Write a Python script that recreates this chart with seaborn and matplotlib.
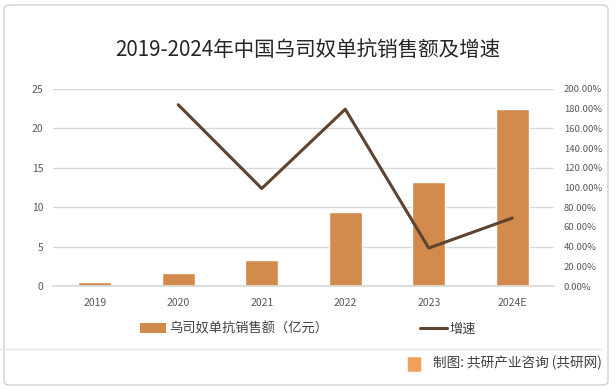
import matplotlib
matplotlib.use("Agg")
import matplotlib.pyplot as plt
import numpy as np
import pandas as pd
import seaborn as sns
from matplotlib.lines import Line2D
from matplotlib.patches import Patch, FancyBboxPatch

# --- dati ---
years = ["2019", "2020", "2021", "2022", "2023", "2024E"]
sales = [0.55, 1.7, 3.3, 9.4, 13.2, 22.4]          # 亿元
growth = [np.nan, 184.0, 99.0, 179.5, 38.5, 69.0]  # %

bar_color = "#D38B4D"
line_color = "#5E4330"
text_color = "#595959"

sns.set_theme(style="white")
plt.rcParams["font.family"] = ["Noto Sans CJK SC", "DejaVu Sans"]

df = pd.DataFrame({"year": years, "sales": sales, "growth": growth, "pos": np.arange(len(years))})

fig = plt.figure(figsize=(6.16, 3.89), dpi=100)
ax = fig.add_axes([53 / 616, 1 - 286 / 389, (554 - 53) / 616, (286 - 89) / 389])

sns.barplot(data=df, x="year", y="sales", color=bar_color, width=0.4, saturation=1, ax=ax)
ax.set_ylim(0, 25)
ax.set_yticks([0, 5, 10, 15, 20, 25])
ax.set_xlim(-0.5, 5.5)
ax.set_xlabel("")
ax.set_ylabel("")
ax.yaxis.grid(True, color="#D9D9D9", linewidth=1)
ax.set_axisbelow(True)
for s in ax.spines.values():
    s.set_visible(False)
ax.spines["bottom"].set_visible(True)
ax.spines["bottom"].set_color("#D9D9D9")
ax.tick_params(axis="both", length=0, labelsize=7.5, colors=text_color)
ax.tick_params(axis="y", pad=7)
ax.tick_params(axis="x", pad=9)

ax2 = ax.twinx()
sns.lineplot(data=df, x="pos", y="growth", color=line_color, linewidth=2.2, ax=ax2)
ax2.set_ylim(0, 200)
ax2.set_yticks(np.arange(0, 201, 20))
ax2.set_yticklabels([f"{v:.2f}%" for v in np.arange(0, 201, 20)])
ax2.set_ylabel("")
ax2.set_xlabel("")
ax2.set_xlim(-0.5, 5.5)
for s in ax2.spines.values():
    s.set_visible(False)
ax2.tick_params(axis="y", length=0, labelsize=6.8, colors=text_color, pad=7)

# titolo
fig.text(0.5, 1 - 50 / 389, "2019-2024年中国乌司奴单抗销售额及增速", ha="center", va="center",
         fontsize=14.8, color="#262626")

# legenda
handles = [Patch(facecolor=bar_color, edgecolor="none"),
           Line2D([0], [0], color=line_color, linewidth=2.2)]
fig.legend(handles, ["乌司奴单抗销售额（亿元）", "增速"], loc="center",
           bbox_to_anchor=(0.5, 1 - 329 / 389), ncol=2, frameon=False,
           fontsize=9.5, columnspacing=7.0, handlelength=2.0, handletextpad=0.2,
           labelcolor="#404040")

# linea separatrice e fonte
fig.add_artist(Line2D([0.0, 0.975], [1 - 349 / 389] * 2, color="#E5E5E5", linewidth=1))
fig.text(0.977, 1 - 363 / 389, "制图: 共研产业咨询 (共研网)", ha="right", va="center",
         fontsize=9.8, color="#404040")
fig.add_artist(FancyBboxPatch((409 / 616, 1 - 371 / 389), 11 / 616, 13 / 389,
                              boxstyle="round,pad=0.002", facecolor="#F0A05A", edgecolor="none"))

# bordo esterno
fig.add_artist(FancyBboxPatch((4 / 616, 4 / 389), 604 / 616, 380 / 389,
                              boxstyle="round,pad=0,rounding_size=0.01",
                              facecolor="none", edgecolor="#D0D0D0", linewidth=1))

fig.savefig("out.png", dpi=100)
